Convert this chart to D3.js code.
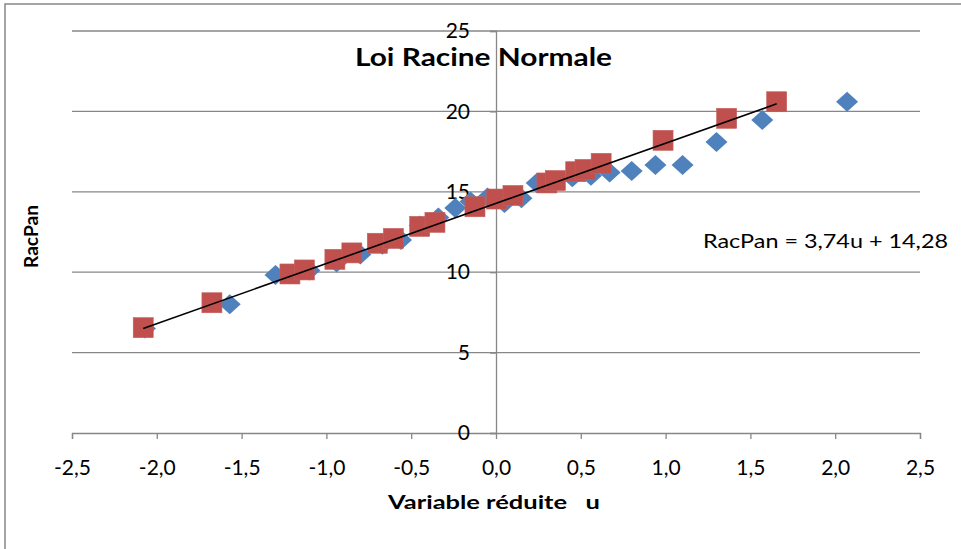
<!DOCTYPE html>
<html>
<head>
<meta charset="utf-8">
<script src="https://cdn.jsdelivr.net/npm/d3@7"></script>
<style>
  body { margin: 0; background: #fff; }
  text { font-family: Lato, "Open Sans", sans-serif; fill: #000; }
</style>
</head>
<body>
<svg id="chart" width="961" height="549"></svg>
<script>
// Observed RacPan values vs theoretical reduced variable u (blue diamonds)
const blueU = [-2.07, -1.57, -1.30, -1.10, -0.94, -0.80, -0.67, -0.56, -0.45, -0.34, -0.24, -0.15, -0.05,
               0.05, 0.15, 0.24, 0.34, 0.45, 0.56, 0.67, 0.80, 0.94, 1.10, 1.30, 1.57, 2.07];
const blueY = [6.5, 8.0, 9.83, 10.1, 10.6, 11.1, 11.7, 12.0, 12.9, 13.4, 14.0, 14.4, 14.65,
               14.3, 14.6, 15.55, 15.7, 15.9, 16.0, 16.2, 16.3, 16.67, 16.67, 18.1, 19.47, 20.6];

// Same values against standardised u (red squares)
const redU = [-2.08, -1.675, -1.215, -1.13, -0.95, -0.85, -0.70, -0.605, -0.45, -0.36, -0.124, 0.004, 0.10,
              0.30, 0.35, 0.47, 0.525, 0.62, 0.985, 1.36, 1.655];
const redY = [6.55, 8.1, 9.89, 10.14, 10.8, 11.2, 11.8, 12.1, 12.85, 13.1, 14.07, 14.55, 14.77,
              15.55, 15.7, 16.25, 16.39, 16.77, 18.2, 19.57, 20.6];

// trendline RacPan = 3,74u + 14,28
const slope = 3.74;
const intercept = 14.28;

const xTicks = [-2.5, -2.0, -1.5, -1.0, -0.5, 0.0, 0.5, 1.0, 1.5, 2.0, 2.5];
const yTicks = [0, 5, 10, 15, 20, 25];

const svg = d3.select('#chart');
const plotLeft = 72, plotRight = 920, plotTop = 31, plotBottom = 433;

const x = d3.scaleLinear().domain([-2.5, 2.5]).range([plotLeft, plotRight]);
const y = d3.scaleLinear().domain([0, 25]).range([plotBottom, plotTop]);

// french decimal comma, plain hyphen for the minus sign
const fmt = d => d.toFixed(1).replace('.', ',');
const gray = '#878787';

// excel-like diamond, a bit wider than tall
const wideDiamond = {
    draw(ctx, size) {
        const w = 11, h = 10;
        ctx.moveTo(0, -h);
        ctx.lineTo(w, 0);
        ctx.lineTo(0, h);
        ctx.lineTo(-w, 0);
        ctx.closePath();
    }
};

// chart area border (only top and left visible)
svg.append('rect')
    .attr('x', 5).attr('y', 4)
    .attr('width', 1000).attr('height', 600)
    .attr('fill', 'none')
    .attr('stroke', gray)
    .attr('stroke-width', 1.5);

// horizontal gridlines
svg.append('g')
    .selectAll('line')
    .data(yTicks.filter(d => d > 0))
    .join('line')
    .attr('x1', plotLeft).attr('x2', plotRight)
    .attr('y1', d => y(d)).attr('y2', d => y(d))
    .attr('stroke', gray)
    .attr('stroke-width', 1.3);

// x axis through y = 0
const xAxis = svg.append('g')
    .attr('transform', `translate(0,${y(0)})`)
    .call(d3.axisBottom(x).tickValues(xTicks).tickFormat(fmt).tickSize(6).tickPadding(21));
xAxis.select('.domain').attr('stroke', gray).attr('stroke-width', 1.3);
xAxis.selectAll('.tick line').attr('stroke', gray).attr('stroke-width', 1.3);
xAxis.selectAll('.tick text')
    .style('font-family', 'Lato, sans-serif')
    .attr('font-size', 21)
    .attr('fill', '#000');

// y axis through u = 0
const yAxis = svg.append('g')
    .attr('transform', `translate(${x(0)},0)`)
    .call(d3.axisLeft(y).tickValues(yTicks).tickFormat(d => String(d)).tickSize(6).tickPadding(20));
yAxis.select('.domain').attr('stroke', gray).attr('stroke-width', 1.3);
yAxis.selectAll('.tick line').attr('stroke', gray).attr('stroke-width', 1.3);
yAxis.selectAll('.tick text')
    .style('font-family', 'Lato, sans-serif')
    .attr('font-size', 21)
    .attr('fill', '#000');

// blue diamonds
svg.append('g')
    .selectAll('path')
    .data(blueU.map((u, i) => ({u: u, v: blueY[i]})))
    .join('path')
    .attr('d', d3.symbol(wideDiamond))
    .attr('transform', d => `translate(${x(d.u)},${y(d.v)})`)
    .attr('fill', '#4f81bd');

// red squares
svg.append('g')
    .selectAll('rect')
    .data(redU.map((u, i) => ({u: u, v: redY[i]})))
    .join('rect')
    .attr('x', d => x(d.u) - 10)
    .attr('y', d => y(d.v) - 10)
    .attr('width', 20).attr('height', 20)
    .attr('fill', '#c0504d')
    .attr('stroke', '#c4605d')
    .attr('stroke-width', 0.6);

// trendline over the red series
const uExt = d3.extent(redU);
svg.append('line')
    .attr('x1', x(uExt[0])).attr('y1', y(slope * uExt[0] + intercept))
    .attr('x2', x(uExt[1])).attr('y2', y(slope * uExt[1] + intercept))
    .attr('stroke', '#000')
    .attr('stroke-width', 1.6);

// equation label
svg.append('text')
    .attr('x', 703).attr('y', 248)
    .attr('font-size', 20)
    .attr('textLength', 245)
    .attr('lengthAdjust', 'spacingAndGlyphs')
    .text('RacPan = 3,74u + 14,28');

// title
svg.append('text')
    .attr('x', 355).attr('y', 66)
    .attr('font-size', 24)
    .attr('font-weight', 'bold')
    .attr('textLength', 257)
    .attr('lengthAdjust', 'spacingAndGlyphs')
    .text('Loi Racine Normale');

// axis titles
svg.append('text')
    .attr('x', 388).attr('y', 509)
    .attr('font-size', 19)
    .attr('font-weight', 'bold')
    .attr('textLength', 212)
    .attr('lengthAdjust', 'spacingAndGlyphs')
    .style('white-space', 'pre')
    .text('Variable réduite   u');

svg.append('text')
    .attr('transform', 'translate(38,268) rotate(-90)')
    .attr('font-size', 19)
    .attr('font-weight', 'bold')
    .attr('textLength', 63)
    .attr('lengthAdjust', 'spacingAndGlyphs')
    .text('RacPan');
</script>
</body>
</html>
